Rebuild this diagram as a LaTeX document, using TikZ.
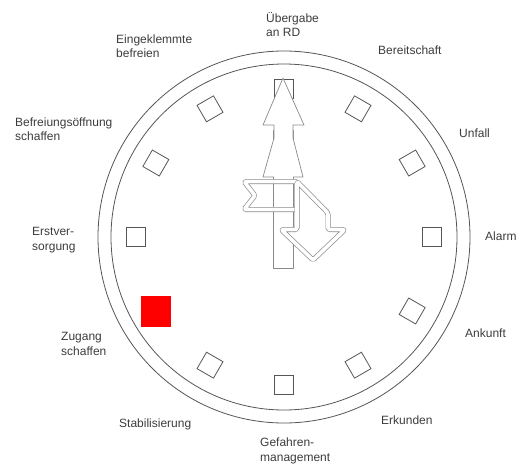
\documentclass[tikz,border=0pt]{standalone}
\usepackage{fontspec}
\setmainfont{Liberation Sans}
\usetikzlibrary{calc}
\definecolor{lblc}{HTML}{3C3C3C}
\definecolor{ring}{HTML}{555555}
\definecolor{hand}{HTML}{8A8A8A}
\begin{document}
\begin{tikzpicture}[x=1pt,y=-1pt,
  lbl/.style={font=\fontsize{12}{14.5}\selectfont, text=lblc, align=left, anchor=west, inner sep=0pt},
  tick/.style={draw=ring, line width=0.8pt, minimum size=19pt, inner sep=0pt},
  handline/.style={draw=hand, line width=0.7pt, line join=round},
  dblhand/.style={draw=hand, line width=0.7pt, double=white, double distance=3.6pt, rounded corners=1.5pt, line join=round}
]
\useasboundingbox (0,0) rectangle (520,466);
\coordinate (c) at (284,237);
% rings
\draw[ring, line width=0.8pt] (c) circle[radius=186];
\draw[ring, line width=0.8pt] (c) circle[radius=173];
% hour marks
\foreach \h in {1,2,3,4,5,6,7,9,10,11,12}
  \node[tick, rotate=90-30*\h] (sq\h) at ($(c)+(30*\h-90:148)$) {};
\node[fill=red, minimum width=30pt, minimum height=31pt, inner sep=0pt] (sq8) at ($(c)+(150:148)$) {};
% shaft of the long hand
\draw[handline] (273,130) rectangle (293,268);
% long hand (upward arrow)
\fill[white] (283,78) -- (304,125) -- (293,125) -- (293,138) -- (303,177) -- (263,177) -- (274,138) -- (274,125) -- (263,125) -- cycle;
\draw[handline] (274,177) -- (263,177) -- (274,138) -- (274,125) -- (263,125) -- (283,78) -- (304,125) -- (293,125) -- (293,138) -- (303,177) -- (293,177);
% flag
\draw[dblhand] (244,181.5) -- (297,181.5) -- (297,209.5) -- (244,209.5) -- (255,195.5) -- cycle;
% bent arrow
\draw[dblhand, fill=white] (297,181.5) -- (328,213) -- (328,229.5) -- (345,229.5) -- (313,260) -- (281,229.5) -- (297,229.5) -- cycle;
% labels
\node[lbl] (l12) at (266,24.5) {Übergabe\\an RD};
\node[lbl] (l1) at (378,50) {Bereitschaft};
\node[lbl] (l2) at (459,133) {Unfall};
\node[lbl] (l3) at (485,236) {Alarm};
\node[lbl] (l4) at (465,333) {Ankunft};
\node[lbl] (l5) at (381,420) {Erkunden};
\node[lbl] (l6) at (260,451) {Gefahren-\\management};
\node[lbl] (l7) at (119,424) {Stabilisierung};
\node[lbl] (l8) at (61,344) {Zugang\\schaffen};
\node[lbl] (l9) at (32,240) {Erstver-\\sorgung};
\node[lbl] (l10) at (15,129) {Befreiungsöffnung\\schaffen};
\node[lbl] (l11) at (116,46) {Eingeklemmte\\befreien};
\end{tikzpicture}
\end{document}
